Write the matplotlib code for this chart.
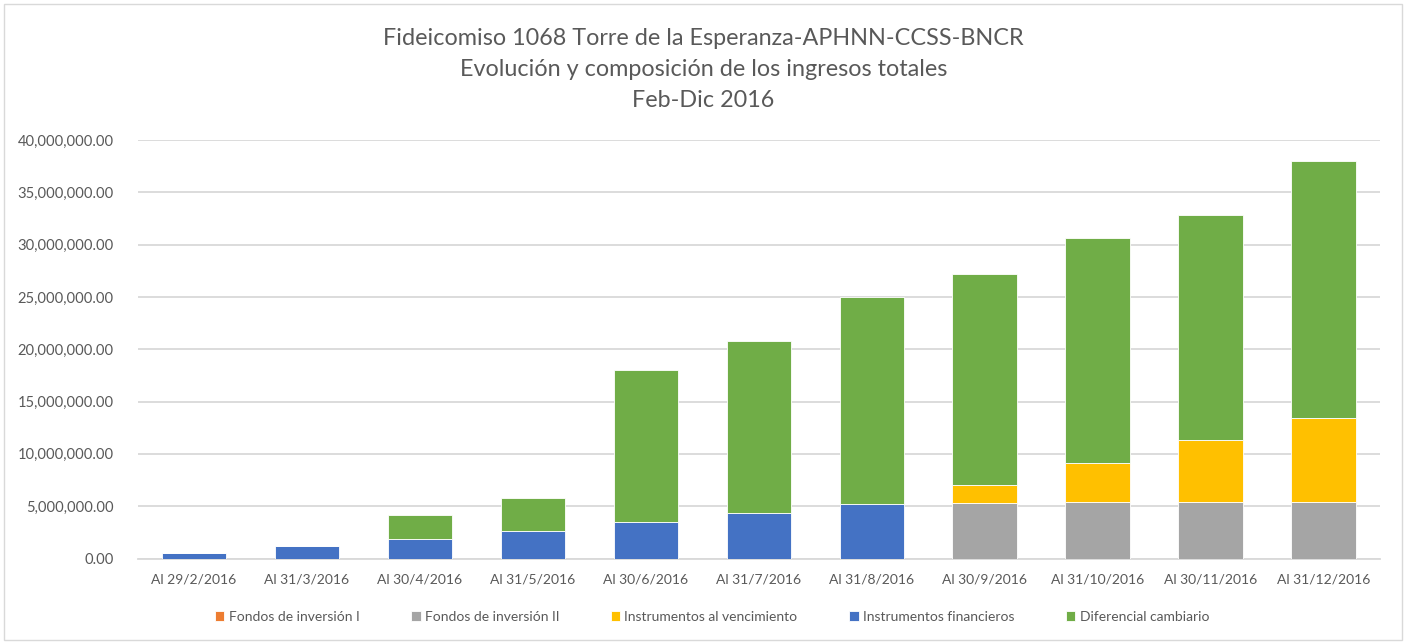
import matplotlib.pyplot as plt
import numpy as np
from matplotlib.patches import Rectangle

plt.rcParams['font.family'] = ['Lato', 'DejaVu Sans']

fechas = ['Al 29/2/2016', 'Al 31/3/2016', 'Al 30/4/2016', 'Al 31/5/2016',
          'Al 30/6/2016', 'Al 31/7/2016', 'Al 31/8/2016', 'Al 30/9/2016',
          'Al 31/10/2016', 'Al 30/11/2016', 'Al 31/12/2016']

fondos_1 = [0, 0, 0, 0, 0, 0, 0, 0, 0, 0, 0]
fondos_2 = [0, 0, 0, 0, 0, 0, 0, 5.35e6, 5.37e6, 5.37e6, 5.37e6]
inst_venc = [0, 0, 0, 0, 0, 0, 0, 1.65e6, 3.78e6, 5.91e6, 8.05e6]
inst_fin = [0.48e6, 1.21e6, 1.88e6, 2.62e6, 3.48e6, 4.34e6, 5.2e6, 0, 0, 0, 0]
dif_camb = [0, 0, 2.32e6, 3.21e6, 14.52e6, 16.46e6, 19.8e6, 20.2e6, 21.48e6, 21.52e6, 24.58e6]

series = [
    ('Fondos de inversión I', fondos_1, '#ED7D31'),
    ('Fondos de inversión II', fondos_2, '#A5A5A5'),
    ('Instrumentos al vencimiento', inst_venc, '#FFC000'),
    ('Instrumentos financieros', inst_fin, '#4472C4'),
    ('Diferencial cambiario', dif_camb, '#70AD47'),
]

gris = '#595959'

fig = plt.figure(figsize=(14.07, 6.44), dpi=100)
ax = fig.add_axes([137.5 / 1407, 1 - 558.5 / 644, (1380 - 137.5) / 1407, (558.5 - 140) / 644])

x = np.arange(len(fechas))
base = np.zeros(len(fechas))
for nombre, vals, color in series:
    vals = np.array(vals, dtype=float)
    ax.bar(x, vals, width=0.57, bottom=base, color=color, label=nombre,
           edgecolor='white', linewidth=0.6, zorder=3)
    base += vals

ax.set_xlim(-0.5, len(fechas) - 0.5)
ax.set_ylim(0, 40e6)
ax.set_yticks(np.arange(0, 40e6 + 1, 5e6))
ax.yaxis.set_major_formatter(plt.FuncFormatter(lambda v, p: f'{v:,.2f}'))
ax.set_xticks(x)
ax.set_xticklabels(fechas)
ax.tick_params(axis='x', length=0, labelsize=10, colors=gris, pad=11)
ax.tick_params(axis='y', length=0, labelsize=10.6, colors=gris, pad=17)
ax.grid(axis='y', color='#D9D9D9', linewidth=1.3, zorder=0)
for s in ['top', 'right', 'left']:
    ax.spines[s].set_visible(False)
ax.spines['bottom'].set_color('#D9D9D9')
ax.spines['bottom'].set_linewidth(1.3)

fig.text(0.5, 1 - 28 / 644, 'Fideicomiso 1068 Torre de la Esperanza-APHNN-CCSS-BNCR\n'
         'Evolución y composición de los ingresos totales\nFeb-Dic 2016',
         ha='center', va='top', fontsize=16.8, color=gris, linespacing=1.58)

handles, labels = ax.get_legend_handles_labels()
fig.legend(handles, labels, loc='center', bbox_to_anchor=(0.506, 1 - 617 / 644),
           ncol=5, frameon=False, fontsize=10, labelcolor=gris,
           handlelength=0.7, handleheight=0.7, handletextpad=0.3, columnspacing=3.7)

fig.patches.append(Rectangle((4 / 1407, 4 / 644), 1398 / 1407, 636 / 644,
                             transform=fig.transFigure, fill=False,
                             edgecolor='#D9D9D9', linewidth=1))

fig.savefig('out.png', dpi=100, facecolor='white')
